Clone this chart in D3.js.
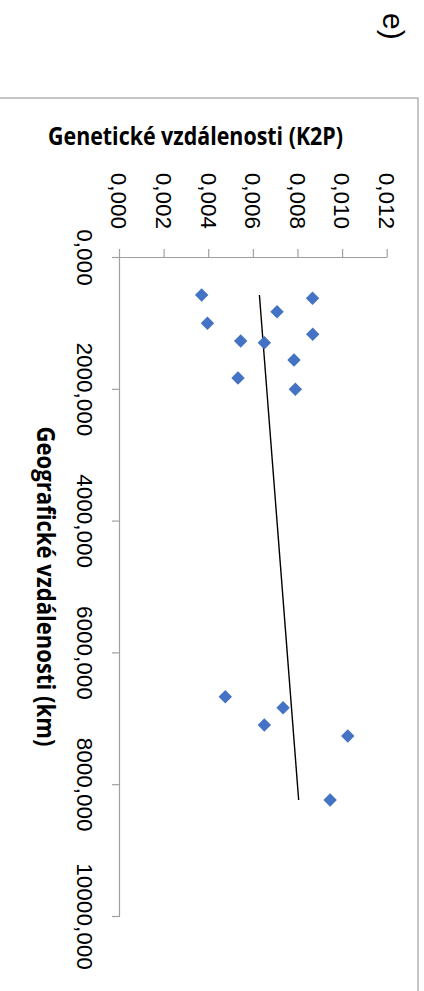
<!DOCTYPE html>
<html>
<head>
<meta charset="utf-8">
<script src="https://cdn.jsdelivr.net/npm/d3@7"></script>
<style>
  html, body { margin: 0; padding: 0; background: #fff; }
  svg { display: block; }
</style>
</head>
<body>
<svg id="chart" width="424" height="991"></svg>
<script>
// ---- data ----
const geoDist = [577, 627, 830, 1006, 1173, 1275, 1300, 1563, 1836, 2008, 6672, 6839, 7102, 7269, 8240];
const genDist = [0.00366, 0.00863, 0.00704, 0.00392, 0.00864, 0.00541, 0.00647, 0.00780, 0.00529, 0.00786,
                 0.00472, 0.00731, 0.00647, 0.01021, 0.00942];
const geoTicks = [0, 2000, 4000, 6000, 8000, 10000];
const genTicks = [0, 0.002, 0.004, 0.006, 0.008, 0.010, 0.012];
const xTitle = "Geografické vzdálenosti (km)";
const yTitle = "Genetické vzdálenosti (K2P)";
const panelLabel = "e)";

// ---- layout ----
const W = 424, H = 991;
const svg = d3.select("#chart");
// whole chart is rotated 90deg clockwise: original (u,v) -> screen (W - v, u)
const g = svg.append("g").attr("transform", `translate(${W},0) rotate(90)`);

const locale = d3.formatLocale({decimal: ",", thousands: "", grouping: [3], currency: ["", ""]});
const fmt3 = locale.format(".3f");

const x = d3.scaleLinear().domain([0, 10000]).range([257, 916]);
const y = d3.scaleLinear().domain([0, 0.012]).range([304, 36.3]);

const grey = "#a0a0a0";

// outer chart border (partially off-screen)
g.append("rect")
  .attr("x", 98).attr("y", 6).attr("width", 1200).attr("height", 800)
  .attr("fill", "none").attr("stroke", grey).attr("stroke-width", 1.2);

// panel label
g.append("text")
  .attr("x", 13).attr("y", 41)
  .attr("font-family", "'Liberation Sans', Arial, sans-serif")
  .attr("font-size", 30).attr("fill", "#000")
  .text(panelLabel);

// axes
const xAxis = d3.axisBottom(x).tickValues(geoTicks).tickFormat(fmt3)
  .tickSize(8).tickSizeOuter(0).tickPadding(19.5);
const yAxis = d3.axisLeft(y).tickValues(genTicks).tickFormat(fmt3)
  .tickSize(8).tickSizeOuter(0).tickPadding(20);

const gx = g.append("g").attr("transform", `translate(0,${y(0)})`).call(xAxis);
const gy = g.append("g").attr("transform", `translate(${x(0)},0)`).call(yAxis);

[gx, gy].forEach(ax => {
  ax.select(".domain").attr("stroke", grey).attr("stroke-width", 1.2);
  ax.selectAll(".tick line").attr("stroke", grey).attr("stroke-width", 1.2);
  ax.selectAll(".tick text")
    .attr("font-family", "'Liberation Sans', Arial, sans-serif")
    .attr("font-size", 22.5).attr("fill", "#000");
});
gy.selectAll(".tick text").attr("dy", "0.36em");

// trendline (least squares over data)
const mx = d3.mean(geoDist), my = d3.mean(genDist);
let sxy = 0, sxx = 0;
geoDist.forEach((xv, i) => { sxy += (xv - mx) * (genDist[i] - my); sxx += (xv - mx) * (xv - mx); });
const slope = sxy / sxx, intercept = my - slope * mx;
const [x0, x1] = d3.extent(geoDist);
g.append("line")
  .attr("x1", x(x0)).attr("y1", y(intercept + slope * x0))
  .attr("x2", x(x1)).attr("y2", y(intercept + slope * x1))
  .attr("stroke", "#000").attr("stroke-width", 1.4);

// points (diamonds)
const diamond = d3.symbol().type(d3.symbolSquare).size(90);
g.append("g").selectAll("path")
  .data(geoDist.map((xv, i) => [xv, genDist[i]]))
  .join("path")
  .attr("d", diamond)
  .attr("transform", d => `translate(${x(d[0])},${y(d[1])}) rotate(45)`)
  .attr("fill", "#4472C4");

// axis titles
const titleFont = "'Open Sans', Lato, sans-serif";
g.append("text")
  .attr("x", (x(0) + x(10000)) / 2).attr("y", 387)
  .attr("text-anchor", "middle")
  .attr("font-family", titleFont).attr("font-weight", "bold")
  .attr("font-size", 24.5).attr("fill", "#000")
  .attr("textLength", 320).attr("lengthAdjust", "spacingAndGlyphs")
  .text(xTitle);

g.append("text")
  .attr("transform", `translate(145,228.5) rotate(-90)`)
  .attr("text-anchor", "middle")
  .attr("font-family", titleFont).attr("font-weight", "bold")
  .attr("font-size", 24.5).attr("fill", "#000")
  .attr("textLength", 295).attr("lengthAdjust", "spacingAndGlyphs")
  .text(yTitle);
</script>
</body>
</html>
